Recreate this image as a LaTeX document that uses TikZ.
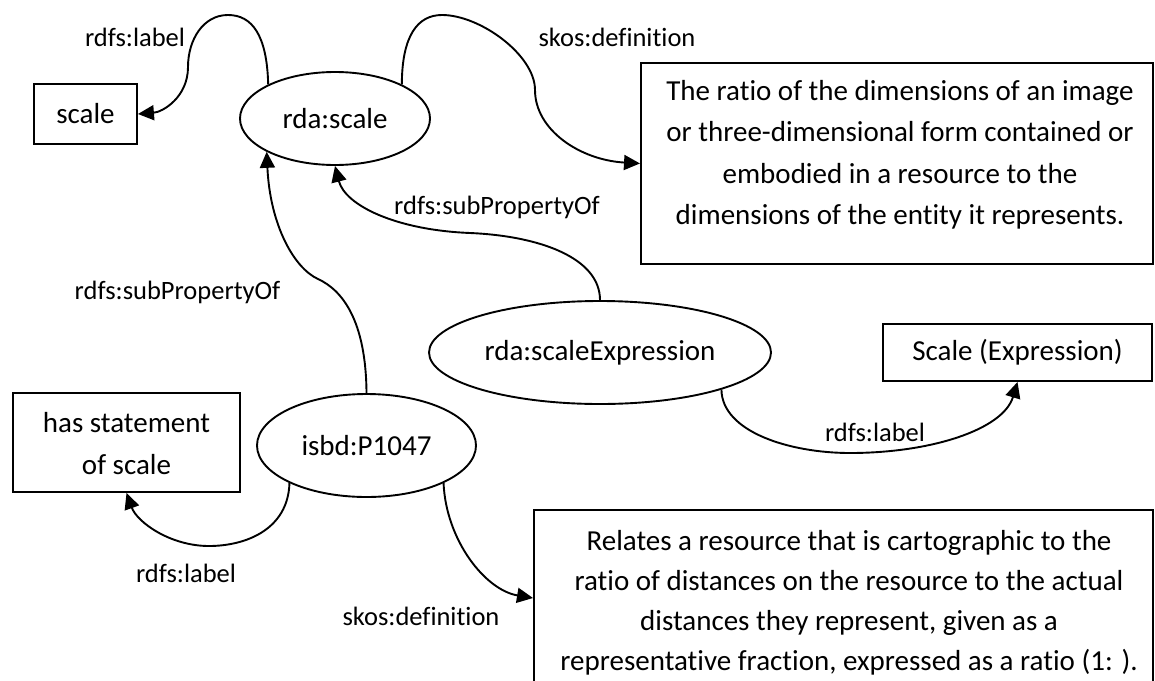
\documentclass[tikz,border=0pt]{standalone}
\usepackage{fontspec}
\setmainfont{Carlito}[Ligatures=NoCommon]
\usetikzlibrary{arrows.meta,shapes.geometric}

\newcommand\dgnodefont{\fontsize{29pt}{35pt}\selectfont}
\newcommand\dgedgefont{\fontsize{26.5pt}{32pt}\selectfont}

\begin{document}
\begin{tikzpicture}[x=1pt,y=-1pt,
  rdfnode/.style={ellipse, draw, line width=1.9pt, inner sep=0pt, font=\dgnodefont},
  litbox/.style={rectangle, draw, line width=1.9pt, inner sep=0pt, font=\dgnodefont},
  textline/.style={font=\dgnodefont, inner sep=0pt, anchor=base},
  edgelabel/.style={font=\dgedgefont, inner sep=0pt},
  link/.style={line width=1.9pt, -{Triangle[length=16pt,width=15pt]}}]

\useasboundingbox (0,0) rectangle (1155,680);
\clip (0,0) rectangle (1155,680);

% properties
\node[rdfnode, minimum width=190pt, minimum height=93pt] (rdascale) at (335,118.5) {rda:scale};
\node[rdfnode, minimum width=342pt, minimum height=103pt] (scaleexpr) at (600,352.5) {rda:scaleExpression};
\node[rdfnode, minimum width=219pt, minimum height=103pt] (isbd) at (366.5,445.5) {isbd:P1047};

% literals
\node[litbox, minimum width=103pt, minimum height=60pt] (scalebox) at (85.5,114) {scale};
\node[litbox, minimum width=269pt, minimum height=57pt] (sexp) at (1017.5,352.5) {Scale (Expression)};
\node[litbox, minimum width=227pt, minimum height=99pt] (hasstmt) at (126.5,442.5) {};
\node[textline] at (126.5,432) {has statement};
\node[textline] at (126.5,474) {of scale};

\node[litbox, minimum width=512pt, minimum height=201pt, anchor=north west] (def1) at (640,62) {};
\node[textline] at (900,100) {The ratio of the dimensions of an image};
\node[textline] at (900,141.5) {or three-dimensional form contained or};
\node[textline] at (900,183) {embodied in a resource to the};
\node[textline] at (900,224.5) {dimensions of the entity it represents.};

\node[litbox, minimum width=619pt, minimum height=200pt, anchor=north west] (def2) at (533,509) {};
\node[textline] at (849,550) {Relates a resource that is cartographic to the};
\node[textline] at (849,590) {ratio of distances on the resource to the actual};
\node[textline] at (849,630) {distances they represent, given as a};
\node[textline] at (849,670) {representative fraction, expressed as a ratio (1: ).};

% connectors
\draw[link] (rdascale.153) .. controls (267,35) and (252,15) .. (228,15)
  .. controls (203,15) and (188,40) .. (188,67)
  .. controls (188,97) and (163,112) .. (scalebox.east);
\node[edgelabel] at (135,37) {rdfs:label};

\draw[link] (rdascale.27) .. controls (402,35) and (418,15) .. (442,15)
  .. controls (480,15) and (535,55) .. (535,90)
  .. controls (535,130) and (580,160) .. (def1.west);
\node[edgelabel] at (617,37) {skos:definition};

\draw[link] (scaleexpr.north) .. controls (600,258) and (540,236) .. (470,233)
  .. controls (395,230) and (345,205) .. (rdascale.south);
\node[edgelabel] at (497,207) {rdfs:subPropertyOf};

\draw[link] (isbd.north) .. controls (366,320) and (342,290) .. (318,279)
  .. controls (294,268) and (270,225) .. (rdascale.206);
\node[edgelabel] at (177.5,292) {rdfs:subPropertyOf};

\draw[link] (scaleexpr.-17) .. controls (722,432) and (790,453) .. (850,453)
  .. controls (930,453) and (1003,430) .. (sexp.south);
\node[edgelabel] at (875,432) {rdfs:label};

\draw[link] (isbd.206) .. controls (288,530) and (245,546) .. (209,546)
  .. controls (170,546) and (137,522) .. (hasstmt.south);
\node[edgelabel] at (186,573) {rdfs:label};

\coordinate (def2in) at ([yshift=-89pt]def2.north west);
\draw[link] (isbd.-26) .. controls (446,540) and (485,590) .. (def2in);
\node[edgelabel] at (421,616) {skos:definition};

\end{tikzpicture}
\end{document}
